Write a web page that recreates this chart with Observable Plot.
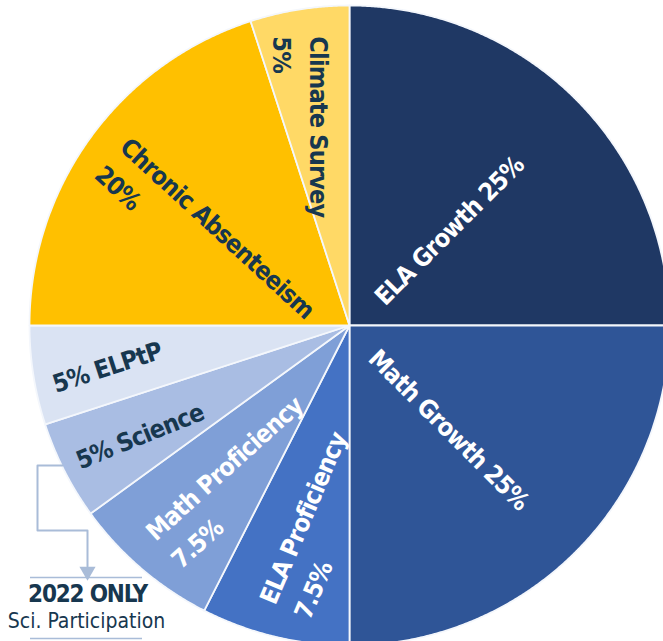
<!DOCTYPE html>
<html><head><meta charset="utf-8">
<script src="https://cdn.jsdelivr.net/npm/d3@7"></script>
<script src="https://cdn.jsdelivr.net/npm/@observablehq/plot@0.6"></script>
<style>
html,body{margin:0;padding:0;background:#fff;}
#chart svg{display:block;overflow:hidden;}
#chart svg text{font-stretch:condensed;letter-spacing:-0.8px;}
</style>
</head><body><div id="chart"></div>
<script>
// ---- data ----
const categories = ["ELA Growth","Math Growth","ELA Proficiency","Math Proficiency","Science","ELPtP","Chronic Absenteeism","Climate Survey"];
const weights = [25, 25, 7.5, 7.5, 5, 5, 20, 5];
const labelTexts = ["ELA Growth 25%","Math Growth 25%","ELA Proficiency\n7.5%","Math Proficiency\n7.5%","5% Science","5% ELPtP","Chronic Absenteeism\n20%","Climate Survey\n5%"];
const noteLines = ["2022 ONLY","Sci. Participation"];

// ---- styles / layout ----
const sliceColors = ["#1f3864","#2f5597","#4472c4","#7f9fd7","#a9bde3","#dae3f3","#ffc000","#ffd966"];
const labelColors = ["#ffffff","#ffffff","#ffffff","#ffffff","#17374f","#17374f","#17374f","#17374f"];
const labelRadius = [0.43, 0.45, 0.91, 0.91, 0.74, 0.77, 0.91, 0.915];
const labelRotate = [-45, 45, -67, -42, -22, -18, 42.5, 90];
const labelAnchor = ["middle","middle","start","start","middle","middle","start","start"];
const FONT = '"DejaVu Sans Condensed","DejaVu Sans","Liberation Sans Narrow",Roboto,sans-serif';
const W = 663, H = 641, CX = 349, CY = 325, R = 320;
const noteColor = "#17374f", bracketColor = "#a9bcd8";

// ---- geometry from data ----
const arcs = d3.pie().sort(null).value(d => d)(weights);
const slicePts = [];
arcs.forEach((a, i) => {
  const name = categories[i];
  slicePts.push({slice: name, u: 0, v: 0});
  const n = Math.max(8, Math.ceil((a.endAngle - a.startAngle) / 0.005));
  for (let k = 0; k <= n; k++) {
    const t = a.startAngle + (a.endAngle - a.startAngle) * k / n;
    slicePts.push({slice: name, u: Math.sin(t), v: Math.cos(t)});
  }
  slicePts.push({slice: name, u: 0, v: 0});
});
const labels = arcs.map((a, i) => {
  const m = (a.startAngle + a.endAngle) / 2;
  return {text: labelTexts[i], u: labelRadius[i] * Math.sin(m), v: labelRadius[i] * Math.cos(m),
          rotate: labelRotate[i], anchor: labelAnchor[i], color: labelColors[i]};
});

// annotation connector (layout, in pie-radius units)
const px = x => (x - CX) / R, py = y => (CY - y) / R;
const bracket = [[62,465],[37,465],[37,530],[87,530],[87,566]].map(([x,y]) => ({u: px(x), v: py(y)}));
const rules = [577, 638].map(y => ({u1: px(30), u2: px(142), v: py(y)}));

const chart = Plot.plot({
  width: W, height: H, margin: 0,
  x: {domain: [px(0), px(W)], axis: null},
  y: {domain: [py(H), py(0)], axis: null},
  color: {domain: categories, range: sliceColors},
  style: {fontFamily: FONT, background: "#fff"},
  marks: [
    Plot.line(slicePts, {x: "u", y: "v", z: "slice", fill: "slice", stroke: "#f4f7fc", strokeWidth: 1.8, strokeLinejoin: "round", curve: "linear"}),
    ...labels.map(l => Plot.text([l], {x: "u", y: "v", text: "text", rotate: l.rotate, textAnchor: l.anchor,
      fill: l.color, fontSize: 25, fontWeight: "bold", lineHeight: 1.5, lineAnchor: "middle"})),
    Plot.line(bracket, {x: "u", y: "v", stroke: bracketColor, strokeWidth: 2}),
    Plot.dot([{u: px(87), v: py(571)}], {x: "u", y: "v", symbol: "triangle", rotate: 180, r: 6, fill: bracketColor, stroke: null}),
    Plot.ruleY(rules, {x1: "u1", x2: "u2", y: "v", stroke: bracketColor, strokeWidth: 1.5}),
    Plot.text([{t: noteLines[0], u: px(87), v: py(594)}], {x: "u", y: "v", text: "t", fill: noteColor, fontSize: 24, fontWeight: 600}),
    Plot.text([{t: noteLines[1], u: px(86), v: py(621)}], {x: "u", y: "v", text: "t", fill: noteColor, fontSize: 21, fontWeight: "normal"})
  ]
});
document.getElementById("chart").appendChild(chart);
d3.select(chart).selectAll("text").filter(function() { return this.textContent === noteLines[1]; })
  .style("letter-spacing", "0px");
d3.select(chart).selectAll("text").filter(function() { return this.textContent === noteLines[0]; })
  .style("letter-spacing", "-1.2px");
</script>
</body></html>
